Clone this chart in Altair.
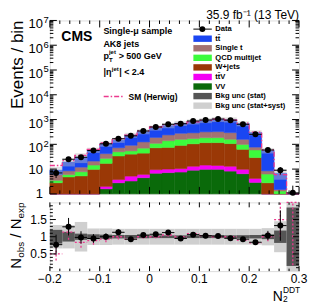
import altair as alt
import numpy as np
import pandas as pd

# ---------------- data ----------------
BIN_EDGES = [-0.2, -0.175, -0.15, -0.125, -0.1, -0.075, -0.05, -0.025, 0.0,
             0.025, 0.05, 0.075, 0.1, 0.125, 0.15, 0.175, 0.2, 0.225, 0.25, 0.275, 0.3]
DATA = [7, 25, 30, 56, 105, 168, 220, 346, 500, 645, 680, 875, 960, 1050, 945, 645, 253, 59, 9, 1.1]
TTBAR = [3.0, 10.9, 18.6, 38, 63, 76, 146, 205, 277, 336, 437, 535, 612, 705, 694, 535, 224, 48.5, 5.3, 0.3]
SINGLE_T = [2.6, 2.5, 4.2, 6.5, 15, 23, 37, 55, 80, 100, 120, 120, 134, 139, 137, 60, 18, 2.2, 0.2, 0.02]
QCD = [0.7, 1.2, 2.5, 4.8, 10, 16, 14, 26, 37, 65, 68, 65, 69, 69, 52, 36, 30, 3.5, 0.7, 0.03]
WJETS = [2.2, 4.0, 4.4, 8.8, 15, 30, 35, 38, 63, 65, 80, 92, 102, 103, 94, 53, 25, 2.3, 0.4, 0.03]
TTV = [0.1, 0.2, 0.2, 0.15, 0.4, 1.0, 1.9, 1.6, 2.7, 2.8, 2.9, 4.0, 4.7, 4.2, 4.7, 3.3, 1.3, 0.1, 0.1, 0.01]
VV = [0.5, 0.6, 0.7, 0.8, 1.6, 2.8, 3.3, 4.5, 6.8, 7.2, 7.6, 9.0, 9.8, 9.8, 8.3, 6.5, 2.9, 0.4, 0.1, 0.01]
HERWIG = [14, 22, 36, 63, 113, 168, 237, 346, 500, 614, 680, 803, 932, 1050, 945, 717, 308, 59, 6, 0.3]
STAT_UNC = [0.2, 0.14, 0.09, 0.07, 0.06, 0.05, 0.05, 0.045, 0.04, 0.04, 0.04, 0.04, 0.04, 0.04,
            0.04, 0.045, 0.05, 0.07, 0.18, 0.85]
TOTAL_UNC = [0.34, 0.34, 0.43, 0.24, 0.24, 0.23, 0.23, 0.23, 0.23, 0.23, 0.23, 0.23, 0.23, 0.23,
             0.23, 0.23, 0.23, 0.25, 0.45, 1.0]

PROC_NAMES = ["VV", "tt̄V", "W+jets", "QCD multijet", "Single t", "tt̄"]
PROC_COLORS = ["#0a6a0a", "#f400f4", "#9a3806", "#3cfb3c", "#a37272", "#1a46f2"]

LEGEND_LABELS = ["Data", "tt̄", "Single t", "QCD multijet", "W+jets", "tt̄V", "VV",
                 "Bkg unc (stat)", "Bkg unc (stat+syst)"]
LEGEND_FILLS = ["", "#1a46f2", "#a37272", "#3cfb3c", "#9a3806", "#f400f4", "#0a6a0a",
                "#555555", "#cfcfcf"]

X_MAJOR = [-0.2, -0.1, 0.0, 0.1, 0.2, 0.3]
X_LABELS = ["−0.2", "−0.1", "0", "0.1", "0.2", "0.3"]
X_MINOR = [-0.18, -0.16, -0.14, -0.12, -0.08, -0.06, -0.04, -0.02, 0.02, 0.04, 0.06, 0.08,
           0.12, 0.14, 0.16, 0.18, 0.22, 0.24, 0.26, 0.28]
LOG_MAJOR = [1, 10, 100, 1e3, 1e4, 1e5, 1e6, 1e7]
LOG_EXP = ["", "", "2", "3", "4", "5", "6", "7"]
LOG_BASE = ["1", "10", "10", "10", "10", "10", "10", "10"]
LOG_MINOR = [m * 10 ** k for k in range(7) for m in range(2, 10)]
R_MAJOR = [0.5, 1.0, 1.5]
R_LABELS = ["0.5", "1", "1.5"]
R_MINOR = [0.1, 0.2, 0.3, 0.4, 0.6, 0.7, 0.8, 0.9, 1.1, 1.2, 1.3, 1.4, 1.6, 1.7, 1.8, 1.9]

FONT = "Liberation Sans"
PINK = "#ec3a8e"
W, H1, H2 = 250, 174, 69

# ---------------- tables ----------------
lo = BIN_EDGES[:-1]
hi = BIN_EDGES[1:]
rows = []
for order, (name, vals) in enumerate(zip(PROC_NAMES, [VV, TTV, WJETS, QCD, SINGLE_T, TTBAR])):
    for i, v in enumerate(vals):
        rows.append(dict(bin=i, lo=lo[i], hi=hi[i], proc=name, order=order, value=v))
hist = pd.DataFrame(rows)

b = pd.DataFrame(dict(lo=lo, hi=hi, data=DATA, herwig=HERWIG, stat=STAT_UNC, tot=TOTAL_UNC))
b["mid"] = (b["lo"] + b["hi"]) / 2
b["total"] = (np.array(TTBAR) + np.array(SINGLE_T) + np.array(QCD) + np.array(WJETS)
              + np.array(TTV) + np.array(VV))
b["derr"] = np.sqrt(b["data"])
b["dlo"] = np.maximum(b["data"] - b["derr"], 0.01)
b["dhi"] = b["data"] + b["derr"]
b["band_lo"] = np.maximum(b["total"] * (1 - b["tot"]), 0.01)
b["band_hi"] = b["total"] * (1 + b["tot"])
b["ratio"] = b["data"] / b["total"]
b["rerr"] = b["derr"] / b["total"]
b["rlo"] = b["ratio"] - b["rerr"]
b["rhi"] = b["ratio"] + b["rerr"]
b["hratio"] = b["data"] / b["herwig"]
b["hlo"] = b["hratio"] - b["derr"] / b["herwig"]
b["hhi"] = b["hratio"] + b["derr"] / b["herwig"]
b["s_lo"] = 1 - b["stat"]
b["s_hi"] = 1 + b["stat"]
b["t_lo"] = 1 - b["tot"]
b["t_hi"] = 1 + b["tot"]
rb = b[b["ratio"] <= 2]

step = pd.DataFrame(dict(x=list(lo) + [hi[-1]], y=list(HERWIG) + [HERWIG[-1]]))
step["y"] = np.maximum(step["y"], 0.01)

xs = alt.Scale(domain=[-0.2, 0.3], nice=False, zero=False)
ys = alt.Scale(type="log", domain=[1, 1e7], nice=False, clamp=True)
rs = alt.Scale(domain=[0, 2], nice=False, zero=False, clamp=True)
cscale = alt.Scale(domain=PROC_NAMES, range=PROC_COLORS)


def txt(t, x, y, size, weight="bold", align="left", angle=None, color="black"):
    kw = dict(align=align, baseline="alphabetic", fontSize=size, fontWeight=weight,
              color=color, font=FONT)
    if angle is not None:
        kw["angle"] = angle
    return alt.Chart(pd.DataFrame({"t": [t]})).mark_text(**kw).encode(
        text="t:N", x=alt.value(x), y=alt.value(y))


def yticks(values, scale, length):
    df = pd.DataFrame({"v": values})
    left = alt.Chart(df).mark_rule(color="black", strokeWidth=1).encode(
        y=alt.Y("v:Q", scale=scale, axis=None), x=alt.value(0), x2=alt.value(length))
    right = alt.Chart(df).mark_rule(color="black", strokeWidth=1).encode(
        y=alt.Y("v:Q", scale=scale, axis=None), x=alt.value(W), x2=alt.value(W - length))
    return [left, right]


def xticks(values, length, height):
    df = pd.DataFrame({"v": values})
    bottom = alt.Chart(df).mark_rule(color="black", strokeWidth=1).encode(
        x=alt.X("v:Q", scale=xs, axis=None), y=alt.value(height), y2=alt.value(height - length))
    top = alt.Chart(df).mark_rule(color="black", strokeWidth=1).encode(
        x=alt.X("v:Q", scale=xs, axis=None), y=alt.value(0), y2=alt.value(length))
    return [bottom, top]


# ---------------- top panel ----------------
stack = alt.Chart(hist).transform_stack(
    stack="value", groupby=["bin"], as_=["y0", "y1"],
    sort=[alt.SortField(field="order", order="ascending")]
).transform_calculate(
    y0c="max(datum.y0, 0.01)", y1c="max(datum.y1, 0.01)"
).mark_rect(strokeWidth=0.5).encode(
    x=alt.X("lo:Q", scale=xs, axis=None), x2="hi:Q",
    y=alt.Y("y1c:Q", scale=ys, axis=None), y2="y0c:Q",
    fill=alt.Color("proc:N", scale=cscale, legend=None),
    stroke=alt.Color("proc:N", scale=cscale, legend=None),
)
band_top = alt.Chart(b).mark_rect(color="#bdbdbd", opacity=0.45).encode(
    x=alt.X("lo:Q", scale=xs, axis=None), x2="hi:Q",
    y=alt.Y("band_hi:Q", scale=ys, axis=None), y2="band_lo:Q")
herwig_line = alt.Chart(step).mark_line(
    interpolate="step-after", color=PINK, strokeWidth=1.3, strokeDash=[5, 2, 1.5, 2]).encode(
    x=alt.X("x:Q", scale=xs, axis=None), y=alt.Y("y:Q", scale=ys, axis=None))
d_err = alt.Chart(b).mark_rule(color="black", strokeWidth=1).encode(
    x=alt.X("mid:Q", scale=xs, axis=None), y=alt.Y("dlo:Q", scale=ys, axis=None), y2="dhi:Q")
d_h = alt.Chart(b).mark_rule(color="black", strokeWidth=1).encode(
    x=alt.X("lo:Q", scale=xs, axis=None), x2="hi:Q", y=alt.Y("data:Q", scale=ys, axis=None))
d_pt = alt.Chart(b).mark_point(filled=True, shape="circle", size=36, color="black", opacity=1).encode(
    x=alt.X("mid:Q", scale=xs, axis=None), y=alt.Y("data:Q", scale=ys, axis=None))

logdf = pd.DataFrame({"v": LOG_MAJOR, "base": LOG_BASE, "exp": LOG_EXP})
lab_small = alt.Chart(logdf[logdf["v"] <= 10]).mark_text(
    align="right", baseline="alphabetic", dy=4.5, fontSize=13, font=FONT, color="black").encode(
    x=alt.value(-7), y=alt.Y("v:Q", scale=ys, axis=None), text="base:N")
lab_big = alt.Chart(logdf[logdf["v"] >= 100]).mark_text(
    align="right", baseline="alphabetic", dy=8, fontSize=13, font=FONT, color="black").encode(
    x=alt.value(-7), y=alt.Y("v:Q", scale=ys, axis=None), text="base:N")
lab_exp = alt.Chart(logdf[logdf["v"] >= 100]).mark_text(
    align="left", baseline="alphabetic", dy=2.5, fontSize=9.5, font=FONT, color="black").encode(
    x=alt.value(-6.5), y=alt.Y("v:Q", scale=ys, axis=None), text="exp:N")

# legend
leg = pd.DataFrame({"label": LEGEND_LABELS, "fill": LEGEND_FILLS, "i": list(range(len(LEGEND_LABELS)))})
leg_text = alt.Chart(leg).transform_calculate(py="8.7 + 9.6 * datum.i").mark_text(
    align="left", baseline="middle", fontSize=7.6, fontWeight="bold", font=FONT, color="black").encode(
    x=alt.value(166), y=alt.Y("py:Q", scale=None), text="label:N")
leg_box = alt.Chart(leg[leg["i"] >= 1]).transform_calculate(
    ya="8.7 + 9.6 * datum.i - 3.2", yb="8.7 + 9.6 * datum.i + 3.2").mark_rect().encode(
    x=alt.value(144), x2=alt.value(162.5), y=alt.Y("ya:Q", scale=None), y2="yb:Q",
    fill=alt.Color("fill:N", scale=None))
leg_line = alt.Chart(leg[leg["i"] == 0]).mark_rule(color="black", strokeWidth=1).encode(
    x=alt.value(144), x2=alt.value(162.5), y=alt.value(8.7))
leg_dot = alt.Chart(leg[leg["i"] == 0]).mark_point(filled=True, shape="circle", size=36,
                                                   color="black", opacity=1).encode(
    x=alt.value(153), y=alt.value(8.7))
herwig_key = alt.Chart(pd.DataFrame({"k": [0]})).mark_rule(
    color=PINK, strokeWidth=1.3, strokeDash=[5, 2, 1.5, 2]).encode(
    x=alt.value(54), x2=alt.value(73), y=alt.value(76.3))

top_layers = [stack, band_top, herwig_line, d_err, d_h, d_pt]
top_layers += yticks(LOG_MAJOR, ys, 7) + yticks(LOG_MINOR, ys, 3.5)
top_layers += xticks(X_MAJOR, 7, H1) + xticks(X_MINOR, 3.5, H1)
top_layers += [lab_small, lab_big, lab_exp]
top_layers += [
    txt("35.9 fb⁻¹ (13 TeV)", W, -1.5, 12, weight="normal", align="right"),
    txt("CMS", 11.5, 20.3, 14),
    txt("Single-μ sample", 53.7, 13.5, 9),
    txt("AK8 jets", 53.7, 27, 9),
    txt("p", 53.7, 39, 9),
    txt("T", 59.3, 42, 6),
    txt("jet", 59.3, 33.5, 6),
    txt("> 500 GeV", 69, 39, 9),
    txt("|η", 53.7, 55, 9),
    txt("jet", 62.2, 50.5, 6),
    txt("| < 2.4", 69.5, 55, 9),
    txt("SM (Herwig)", 79, 79.5, 8.5),
    herwig_key,
    txt("Events / bin", -27, 0, 17, weight="normal", align="right", angle=270),
    leg_line, leg_dot, leg_box, leg_text,
]
top = alt.layer(*top_layers).properties(width=W, height=H1)

# ---------------- ratio panel ----------------
band_tot = alt.Chart(b).mark_rect(color="#cfcfcf").encode(
    x=alt.X("lo:Q", scale=xs, axis=None), x2="hi:Q",
    y=alt.Y("t_hi:Q", scale=rs, axis=None), y2="t_lo:Q")
band_stat = alt.Chart(b).mark_rect(color="#555555").encode(
    x=alt.X("lo:Q", scale=xs, axis=None), x2="hi:Q",
    y=alt.Y("s_hi:Q", scale=rs, axis=None), y2="s_lo:Q")
h_h = alt.Chart(b).mark_rule(color=PINK, strokeWidth=1.3, strokeDash=[2, 2]).encode(
    x=alt.X("lo:Q", scale=xs, axis=None), x2="hi:Q", y=alt.Y("hratio:Q", scale=rs, axis=None))
h_v = alt.Chart(b).mark_rule(color=PINK, strokeWidth=1.3, strokeDash=[2, 2]).encode(
    x=alt.X("mid:Q", scale=xs, axis=None), y=alt.Y("hlo:Q", scale=rs, axis=None), y2="hhi:Q")
r_err = alt.Chart(rb).mark_rule(color="black", strokeWidth=1).encode(
    x=alt.X("mid:Q", scale=xs, axis=None), y=alt.Y("rlo:Q", scale=rs, axis=None), y2="rhi:Q")
r_h = alt.Chart(rb).mark_rule(color="black", strokeWidth=1).encode(
    x=alt.X("lo:Q", scale=xs, axis=None), x2="hi:Q", y=alt.Y("ratio:Q", scale=rs, axis=None))
r_pt = alt.Chart(rb).mark_point(filled=True, shape="circle", size=36, color="black", opacity=1).encode(
    x=alt.X("mid:Q", scale=xs, axis=None), y=alt.Y("ratio:Q", scale=rs, axis=None))

xlab = alt.Chart(pd.DataFrame({"v": X_MAJOR, "t": X_LABELS})).mark_text(
    align="center", baseline="top", fontSize=12, font=FONT, color="black").encode(
    x=alt.X("v:Q", scale=xs, axis=None), y=alt.value(H2 + 2.8), text="t:N")
rlab = alt.Chart(pd.DataFrame({"v": R_MAJOR, "t": R_LABELS})).mark_text(
    align="right", baseline="middle", fontSize=12, font=FONT, color="black").encode(
    y=alt.Y("v:Q", scale=rs, axis=None), x=alt.value(-3), text="t:N")

bot_layers = [band_tot, band_stat, h_h, h_v, r_err, r_h, r_pt]
bot_layers += yticks(R_MAJOR, rs, 6) + yticks(R_MINOR, rs, 3)
bot_layers += xticks(X_MAJOR, 5, H2) + xticks(X_MINOR, 2.5, H2)
bot_layers += [
    xlab, rlab,
    txt("N", -28.5, 66.5, 15, weight="normal", angle=270),
    txt("obs", -25.5, 55.7, 10, weight="normal", angle=270),
    txt("/", -28.5, 35.4, 15, weight="normal", angle=270),
    txt("N", -28.5, 27.1, 15, weight="normal", angle=270),
    txt("exp", -25.5, 16.3, 10, weight="normal", angle=270),
    txt("N", 223.7, 98.5, 14, weight="normal"),
    txt("2", 233.8, 99.5, 8.5, weight="normal"),
    txt("DDT", 233.8, 90.8, 8.5, weight="normal"),
]
bot = alt.layer(*bot_layers).properties(width=W, height=H2)

# the "1" label of the top panel hangs 7.5 px below its frame; spacing nets a 6 px gap
chart = alt.vconcat(top, bot, spacing=-1.5).properties(
    padding={"left": 0, "top": 0, "right": 0, "bottom": 0}
).configure_view(stroke="black", strokeWidth=1).configure(font=FONT)

chart.save("out.html", embed_options={"renderer": "svg", "actions": False})
